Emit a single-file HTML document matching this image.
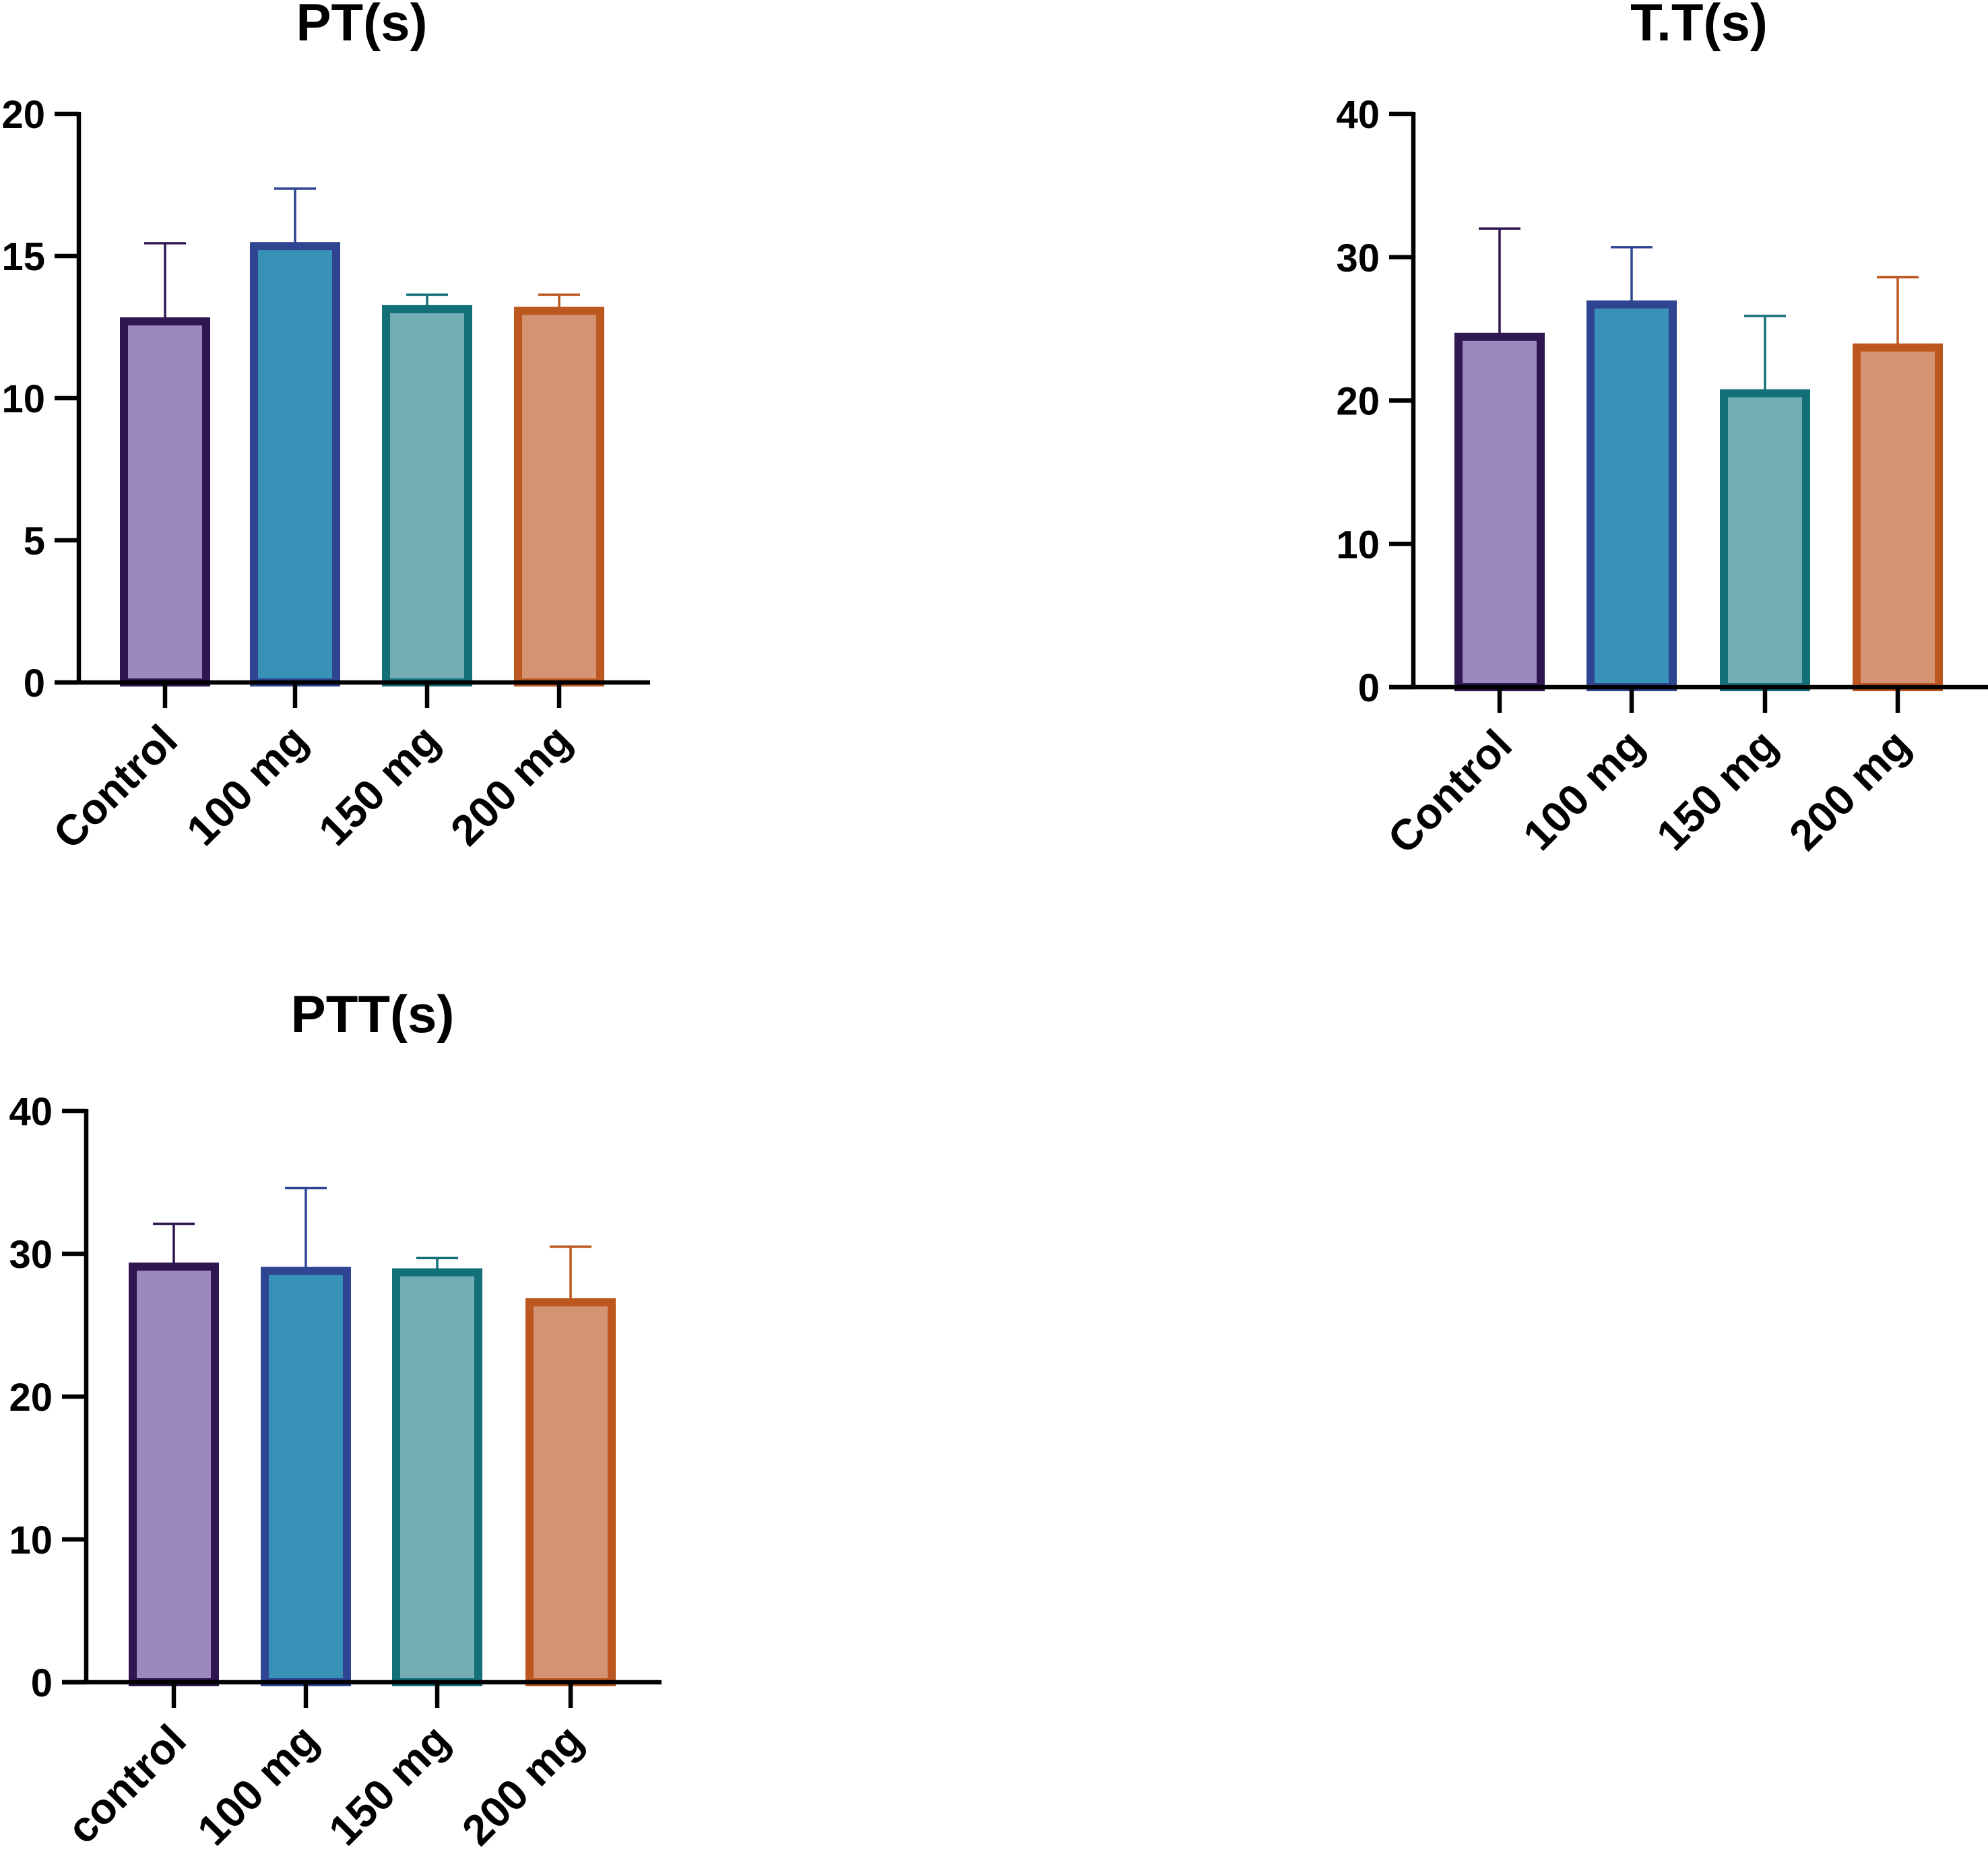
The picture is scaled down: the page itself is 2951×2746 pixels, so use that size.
<!DOCTYPE html>
<html><head><meta charset="utf-8"><style>
html,body{margin:0;padding:0;background:#fff}
svg{display:block;font-family:"Liberation Sans",Arial,sans-serif;font-weight:bold}
</style></head><body>
<svg id="s" width="2951" height="2746" viewBox="0 0 2951 2746" xmlns="http://www.w3.org/2000/svg"></svg>
<script>
const categoriesA = ["Control","100 mg","150 mg","200 mg"];
const categoriesC = ["control","100 mg","150 mg","200 mg"];
const ptMeans = [12.7, 15.35, 13.13, 13.07];
const ptErr = [15.45, 17.37, 13.64, 13.64];
const ttMeans = [24.45, 26.7, 20.5, 23.7];
const ttErr = [32.0, 30.7, 25.9, 28.6];
const pttMeans = [29.1, 28.8, 28.7, 26.6];
const pttErr = [32.1, 34.6, 29.7, 30.5];
const ptTicks = [0,5,10,15,20];
const ttTicks = [0,10,20,30,40];
const pttTicks = [0,10,20,30,40];
const fills = ["#9b88bc","#3892b8","#73aeb5","#d49372"];
const strokes = ["#2e1650","#2f4592","#137078","#bc571f"];
const NS="http://www.w3.org/2000/svg";
const svg=document.getElementById('s');
function mk(tag,attrs,parent){const e=document.createElementNS(NS,tag);for(const k in attrs)e.setAttribute(k,attrs[k]);(parent||svg).appendChild(e);return e;}
function chart(o){
  const g=mk('g',{});
  
  
  const ymax=o.ticks[o.ticks.length-1];
  const y=v=>o.y0-(o.y0-o.yTop)*v/ymax;
  const t=mk('text',{x:o.titleX,y:o.titleY,'text-anchor':'middle','font-size':78},g);
  t.textContent=o.title;
  
  
  o.centers.forEach((cx,i)=>{
    const m=o.means[i];
    const hw=61;
    const eb=mk('line',{x1:cx,x2:cx,y1:y(m),y2:y(o.err[i]),stroke:strokes[i],'stroke-width':3.5},g);
    
    
    const cap=mk('line',{x1:cx-31,x2:cx+31,y1:y(o.err[i]),y2:y(o.err[i]),stroke:strokes[i],'stroke-width':3.5},g);
    
    
    const b=mk('rect',{x:cx-hw,y:y(m),width:hw*2,height:o.y0-y(m),fill:fills[i],stroke:strokes[i],'stroke-width':12},g);
    
    
    const tk=mk('line',{x1:cx,x2:cx,y1:o.y0,y2:o.y0+38,stroke:'#000','stroke-width':6.5},g);
    
    
    const lx=cx+22, ly=o.y0+90;
    const lb=mk('text',{x:lx,y:ly,'text-anchor':'end','font-size':64,transform:`rotate(-45 ${lx} ${ly})`},g);
    lb.textContent=o.cats[i];
    
    
  });
  const ya=mk('line',{x1:o.x0,x2:o.x0,y1:o.yTop-3,y2:o.y0+3,stroke:'#000','stroke-width':6.5},g);
  
  
  const xa=mk('line',{x1:o.x0-36,x2:o.xEnd,y1:o.y0,y2:o.y0,stroke:'#000','stroke-width':6.5},g);
  
  
  o.ticks.forEach(v=>{
    const l=mk('line',{x1:o.x0-36,x2:o.x0,y1:y(v),y2:y(v),stroke:'#000','stroke-width':6.5},g);
    
    
    const tx=mk('text',{x:o.x0-50,y:y(v)+21,'text-anchor':'end','font-size':58},g);
    tx.textContent=v;
    
    
  });
}
chart({name:'pt-chart',title:'PT(s)',titleX:537,titleY:60,x0:117,xEnd:965,y0:1013,yTop:169,centers:[245,438,634,830],cats:categoriesA,means:ptMeans,err:ptErr,ticks:ptTicks});
chart({name:'tt-chart',title:'T.T(s)',titleX:2522,titleY:60,x0:2098,xEnd:2951,y0:1020,yTop:169,centers:[2226,2422,2620,2817],cats:categoriesA,means:ttMeans,err:ttErr,ticks:ttTicks});
chart({name:'ptt-chart',title:'PTT(s)',titleX:553,titleY:1532,x0:128,xEnd:982,y0:2497,yTop:1649,centers:[258,454,649,847],cats:categoriesC,means:pttMeans,err:pttErr,ticks:pttTicks});
</script>
</body></html>
